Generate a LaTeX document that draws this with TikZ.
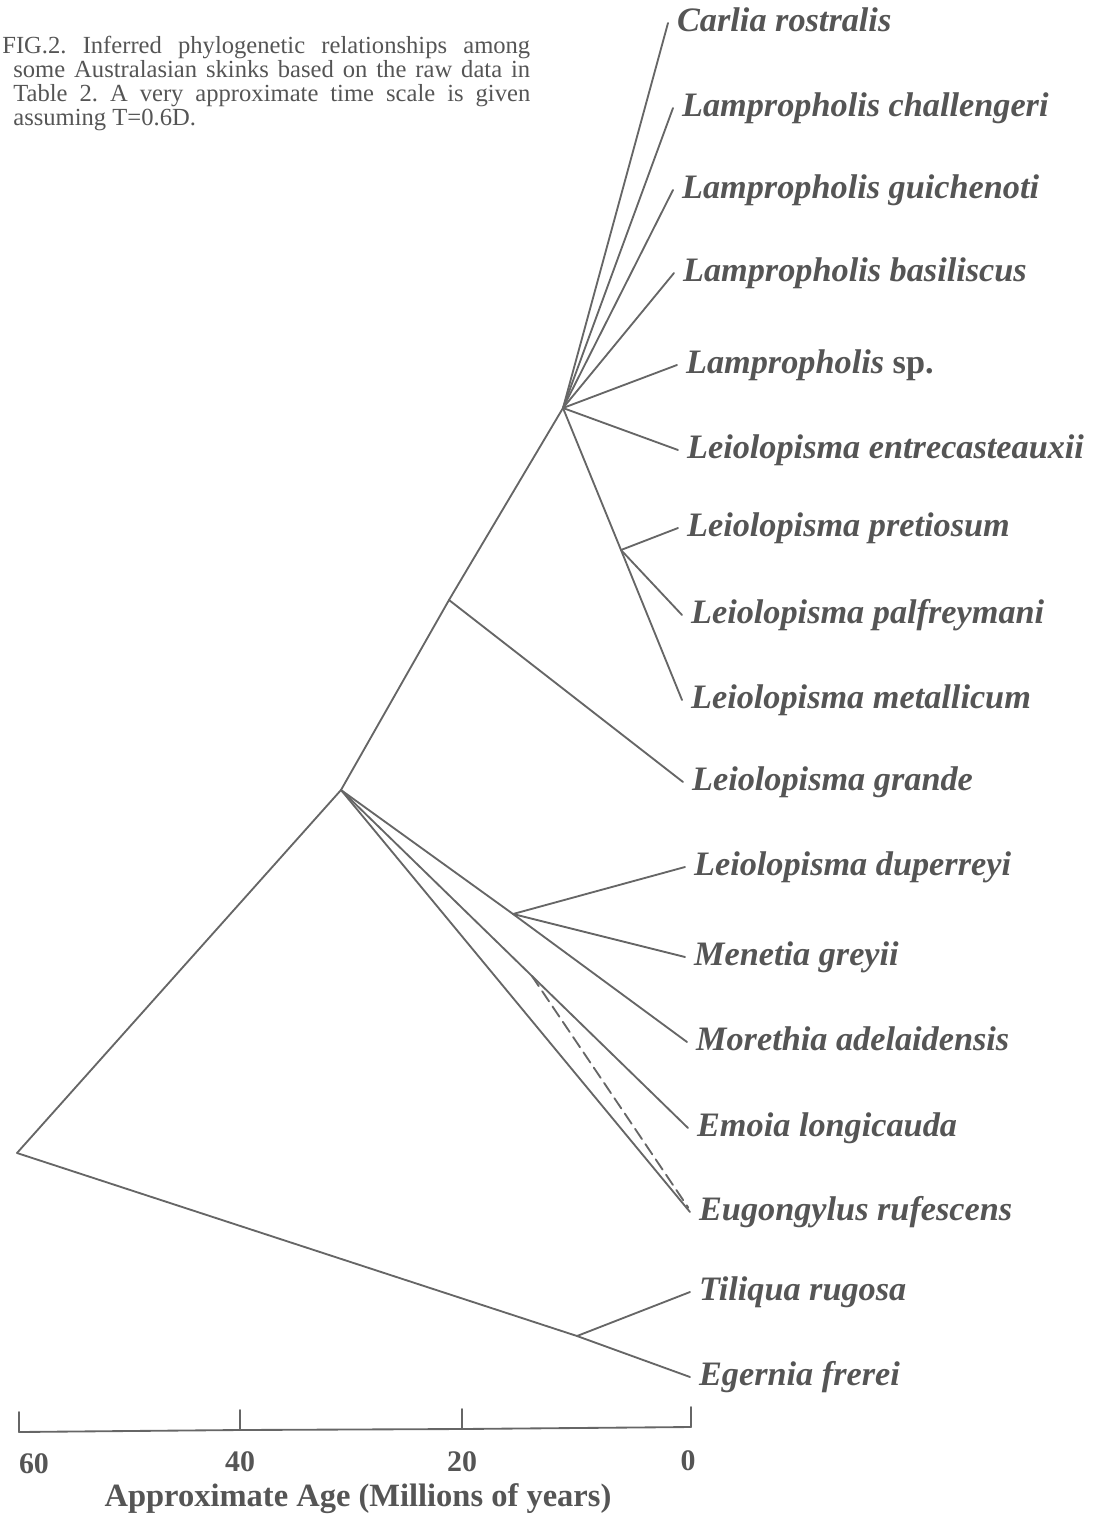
\documentclass[tikz,border=0pt]{standalone}
\usepackage{fontspec}
\setmainfont{Liberation Serif}
\usetikzlibrary{calc}
\frenchspacing

\definecolor{ink}{HTML}{555555}
\definecolor{stroke}{HTML}{666666}

\begin{document}
\begin{tikzpicture}[
  x=0.02cm, y=-0.02cm,
  edge/.style={draw=stroke, line width=1.05pt, line cap=round},
  alt/.style={edge, dash pattern=on 7pt off 3.5pt},
  taxon/.style={anchor=west, inner xsep=5pt, inner ysep=0pt, text height=9.5pt, text depth=0pt,
                text=ink, font=\fontsize{19.5}{21}\selectfont\bfseries\itshape},
  agelabel/.style={anchor=base, inner sep=0pt, text=ink, font=\fontsize{17}{19}\selectfont\bfseries},
  caption/.style={anchor=base west, inner sep=0pt, text=ink, font=\fontsize{14}{14}\selectfont}
]
\useasboundingbox (0,0) rectangle (1099,1514);

% caption
\node[caption] (cap1) at (2,54) {\makebox[10.56cm][s]{FIG.2. Inferred phylogenetic relationships among}};
\node[caption] (cap2) at (13,78) {\makebox[10.34cm][s]{some Australasian skinks based on the raw data in}};
\node[caption] (cap3) at (13,102) {\makebox[10.34cm][s]{Table 2. A very approximate time scale is given}};
\node[caption] (cap4) at (13,126) {assuming T=0.6D.};

% internal nodes
\coordinate (root) at (17,1153);
\coordinate (A) at (341,790);
\coordinate (B) at (449,600);
\coordinate (C) at (563,408);
\coordinate (D) at (621,550);
\coordinate (E) at (513,914);
\coordinate (F) at (577,1336);

% taxa
\node[taxon] (car) at (668,23) {Carlia rostralis};
\node[taxon] (cha) at (673,108) {Lampropholis challengeri};
\node[taxon] (gui) at (673,190) {Lampropholis guichenoti};
\node[taxon] (bas) at (674,273) {Lampropholis basiliscus};
\node[taxon] (lsp) at (677,365) {Lampropholis {\upshape sp.}};
\node[taxon] (ent) at (678,450) {Leiolopisma entrecasteauxii};
\node[taxon] (pre) at (678,528) {Leiolopisma pretiosum};
\node[taxon] (pal) at (682,615) {Leiolopisma palfreymani};
\node[taxon] (met) at (682,700) {Leiolopisma metallicum};
\node[taxon] (gra) at (683,782) {Leiolopisma grande};
\node[taxon] (dup) at (685,867) {Leiolopisma duperreyi};
\node[taxon] (men) at (685,957) {Menetia greyii};
\node[taxon] (mor) at (687,1042) {Morethia adelaidensis};
\node[taxon] (emo) at (688,1128) {Emoia longicauda};
\node[taxon] (eug) at (690,1212) {Eugongylus rufescens};
\node[taxon] (til) at (690,1292) {Tiliqua rugosa};
\node[taxon] (ege) at (690,1377) {Egernia frerei};

% branches
\draw[edge] (root) -- (A);
\draw[edge] (root) -- (F);
\draw[edge] (F) -- (til.west);
\draw[edge] (F) -- (ege.west);
\draw[edge] (A) -- (B);
\draw[edge] (B) -- (C);
\draw[edge] (B) -- (gra.west);
\foreach \t in {car,cha,gui,bas,lsp,ent}
  \draw[edge] (C) -- (\t.west);
\draw[edge] (C) -- (D);
\foreach \t in {pre,pal,met}
  \draw[edge] (D) -- (\t.west);
\draw[edge] (A) -- (E);
\foreach \t in {dup,men,mor}
  \draw[edge] (E) -- (\t.west);
\draw[edge] (A) -- (emo.west);
\draw[edge] (A) -- (eug.west);
\coordinate (dsh) at ($(A)!0.55!(emo.west)$);
\draw[alt] (dsh) -- ([xshift=-1pt,yshift=2.5pt]eug.west);

% time scale
\coordinate (t60) at (19,1432);
\coordinate (t40) at (240,1430);
\coordinate (t20) at (462,1429);
\coordinate (t0) at (691,1427);
\draw[edge] (t60) -- (t40) -- (t20) -- (t0);
\foreach \t in {t60,t40,t20,t0}
  \draw[edge] (\t) -- ++(0,-20);
\node[agelabel] (n60) at (34,1473) {60};
\node[agelabel] (n40) at (240,1471) {40};
\node[agelabel] (n20) at (462,1471) {20};
\node[agelabel] (n0) at (688,1470) {0};
\node[agelabel, font=\fontsize{18.5}{20}\selectfont\bfseries] (axis) at (358,1506) {Approximate Age (Millions of years)};
\end{tikzpicture}
\end{document}
